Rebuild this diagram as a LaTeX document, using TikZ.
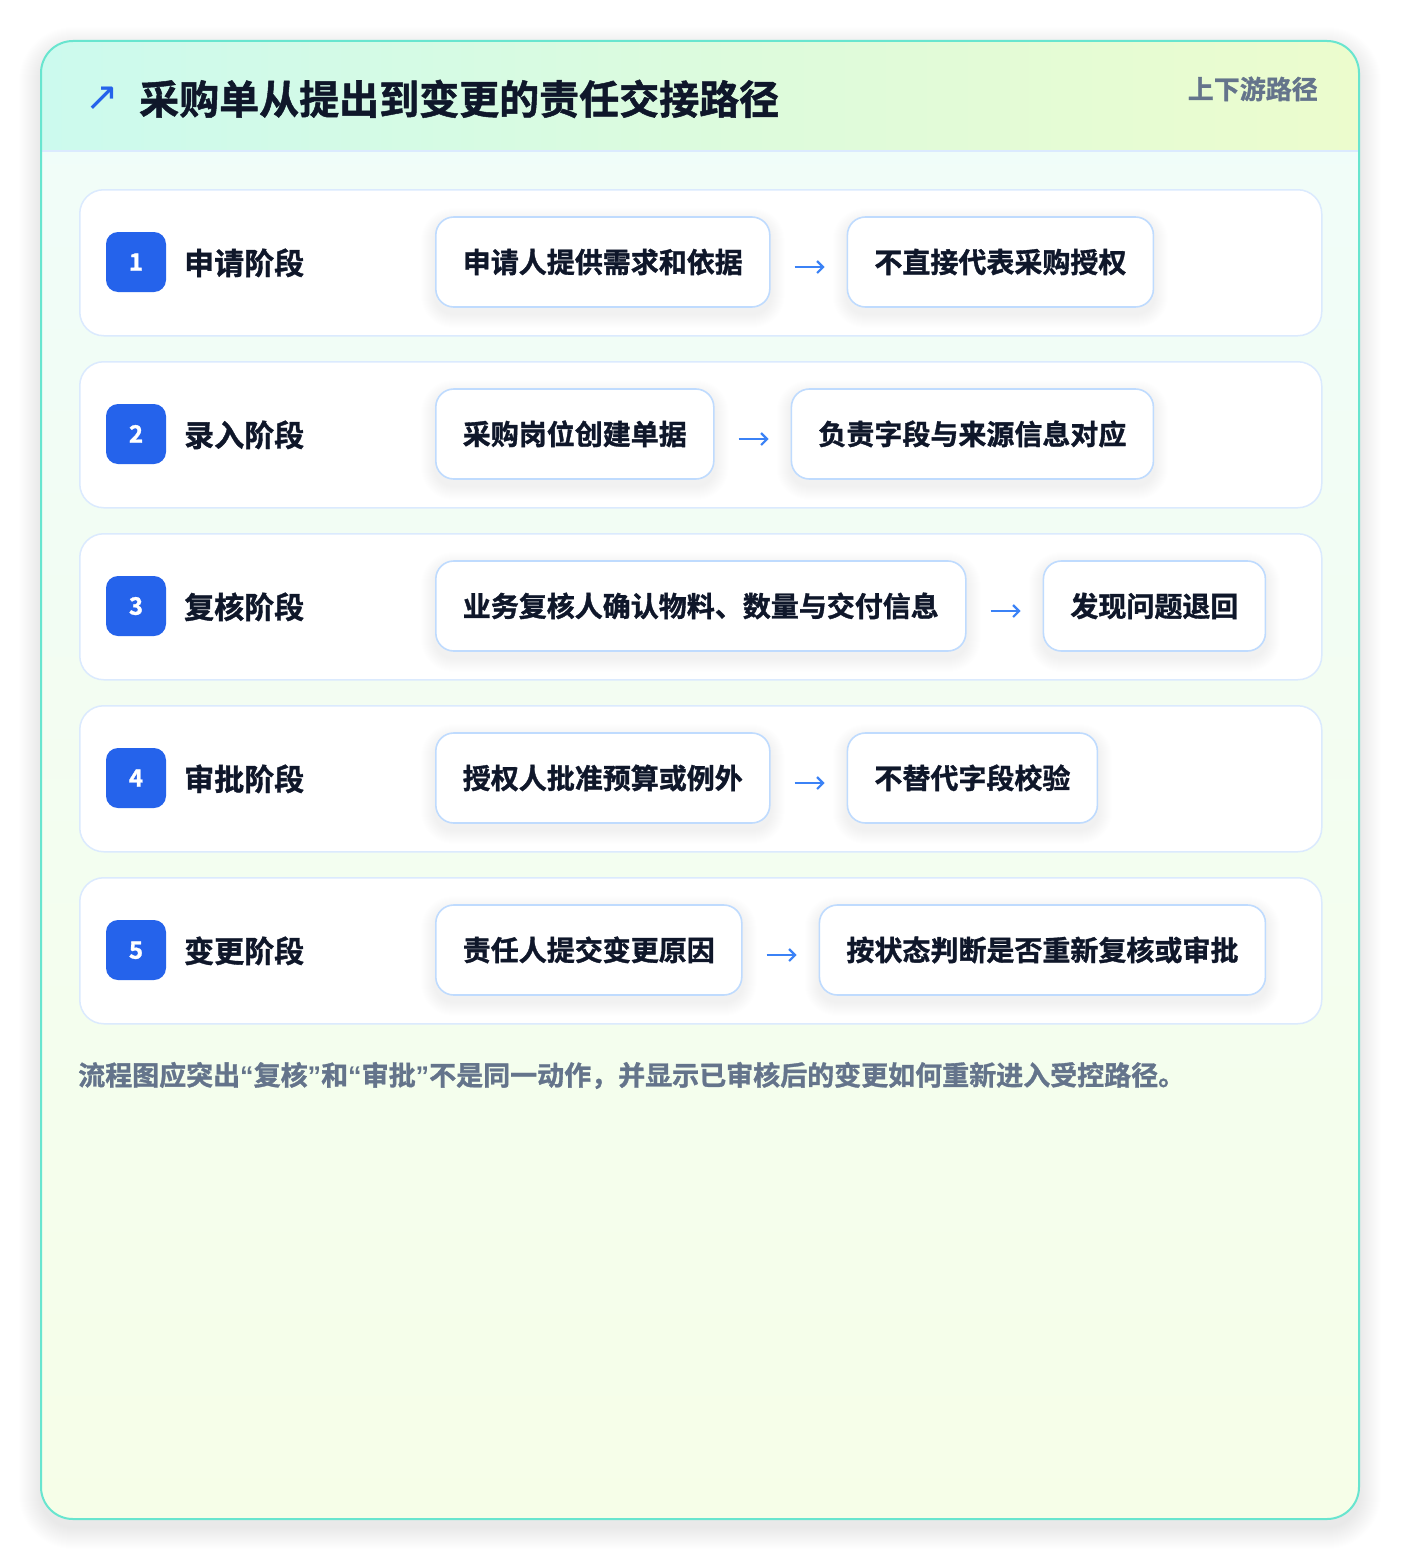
\documentclass[tikz,border=0pt]{standalone}
\usepackage{fontspec}
\newfontfamily\cjk{Noto Sans CJK SC Bold}[FakeBold=1.2]
\newfontfamily\qfont{Liberation Sans Bold}
\newfontfamily\djv{DejaVu Sans}
\usetikzlibrary{arrows.meta}
\definecolor{cardborder}{RGB}{104,229,207}
\definecolor{headl}{RGB}{204,250,238}
\definecolor{headr}{RGB}{236,252,205}
\definecolor{bodyt}{RGB}{240,253,250}
\definecolor{bodyb}{RGB}{246,254,232}
\definecolor{rowborder}{RGB}{219,234,254}
\definecolor{boxborder}{RGB}{191,219,254}
\definecolor{badgeblue}{RGB}{37,99,235}
\definecolor{darktext}{RGB}{15,23,42}
\definecolor{graytext}{RGB}{100,116,139}
\definecolor{arrowblue}{RGB}{59,130,246}
\pgfdeclarelayer{cardl}
\pgfdeclarelayer{rowl}
\pgfdeclarelayer{shadl}
\pgfsetlayers{cardl,rowl,shadl,main}
\tikzset{
  rowbox/.style={draw=rowborder, line width=1.5pt, fill=white, rounded corners=24pt,
    minimum width=1242pt, minimum height=146pt, inner sep=0pt},
  badge/.style={fill=badgeblue, rounded corners=12pt, minimum size=60pt, inner sep=0pt,
    text=white, font=\cjk\fontsize{24}{28}\selectfont, text height=17.4pt, text depth=0pt},
  lbl/.style={text=darktext, inner sep=0pt, font=\cjk\fontsize{30}{36}\selectfont,
    text height=22.8pt, text depth=0pt},
  stepbox/.style={draw=boxborder, line width=1.6pt, fill=white, rounded corners=18pt,
    minimum height=90pt, inner xsep=27pt, inner ysep=0pt, text=darktext,
    font=\cjk\fontsize{28}{34}\selectfont, text height=21.3pt, text depth=0pt},
  conn/.style={draw=arrowblue, line width=2.2pt,
    -{Straight Barb[length=6pt,width=12pt,line width=2.2pt]},
    shorten <=24pt, shorten >=22pt}
}
\newcommand\boxshade[1]{%
  \begin{pgfonlayer}{shadl}
  \foreach \i in {1,...,14}{
    \fill[black, opacity=0.005, rounded corners=18pt+\i pt]
      ([xshift=-\i pt, yshift=-\i pt-6pt]#1.south west) rectangle
      ([xshift=\i pt, yshift=\i pt-6pt]#1.north east);
  }
  \end{pgfonlayer}}
\newcommand\steprow[5]{%
  \begin{pgfonlayer}{rowl}
  \node[rowbox, anchor=north west] (row#1) at (79,#2) {};
  \end{pgfonlayer}
  \node[badge] (bd#1) at (136,#2+73) {#1};
  \node[lbl, anchor=west] (lb#1) at (184,#2+74) {#3};
  \node[stepbox, anchor=west] (a#1) at (435,#2+73) {#4};
  \node[stepbox, anchor=west] (b#1) at ([xshift=76pt]a#1.east) {#5};
  \draw[conn] ([yshift=-5pt]a#1.east) -- ([yshift=-5pt]b#1.west);
  \boxshade{a#1}\boxshade{b#1}%
}
\begin{document}
\begin{tikzpicture}[x=1pt,y=-1pt]
\useasboundingbox (0,0) rectangle (1400,1560);
\begin{pgfonlayer}{cardl}
\fill[white] (0,0) rectangle (1400,1560);
\foreach \i in {1,...,22}{
  \fill[black, opacity=0.0045, rounded corners=32pt+\i pt]
    (41-\i,41-\i+8) rectangle (1359+\i,1519+\i+8);
}
\begin{scope}
\clip[rounded corners=32pt] (41,41) rectangle (1359,1519);
\shade[top color=bodyt, bottom color=bodyb] (41,41) rectangle (1359,1519);
\shade[left color=headl, right color=headr] (41,41) rectangle (1359,151);
\draw[rowborder, line width=1.5pt] (41,151) -- (1359,151);
\end{scope}
\draw[cardborder, line width=2pt, rounded corners=32pt] (41,41) rectangle (1359,1519);
\end{pgfonlayer}
\node[text=badgeblue, inner sep=0pt, font=\djv\fontsize{40}{44}\selectfont] (icon) at (102,99) {↗};
\node[anchor=west, inner sep=0pt, text=darktext, font=\cjk\fontsize{40}{48}\selectfont,
  text height=30.4pt, text depth=0pt] (title) at (139,99) {采购单从提出到变更的责任交接路径};
\node[anchor=east, inner sep=0pt, text=graytext, font=\cjk\fontsize{26}{30}\selectfont,
  text height=19.8pt, text depth=0pt] (sub) at (1318,89) {上下游路径};
\steprow{1}{189}{申请阶段}{申请人提供需求和依据}{不直接代表采购授权}
\steprow{2}{361}{录入阶段}{采购岗位创建单据}{负责字段与来源信息对应}
\steprow{3}{533}{复核阶段}{业务复核人确认物料、数量与交付信息}{发现问题退回}
\steprow{4}{705}{审批阶段}{授权人批准预算或例外}{不替代字段校验}
\steprow{5}{877}{变更阶段}{责任人提交变更原因}{按状态判断是否重新复核或审批}
\node[anchor=west, inner sep=0pt, text=graytext, font=\cjk\fontsize{27}{31}\selectfont,
  text height=20.5pt, text depth=0pt] (note) at (78,1075) {流程图应突出{\qfont “}复核{\qfont ”}和{\qfont “}审批{\qfont ”}不是同一动作，并显示已审核后的变更如何重新进入受控路径。};
\end{tikzpicture}
\end{document}
